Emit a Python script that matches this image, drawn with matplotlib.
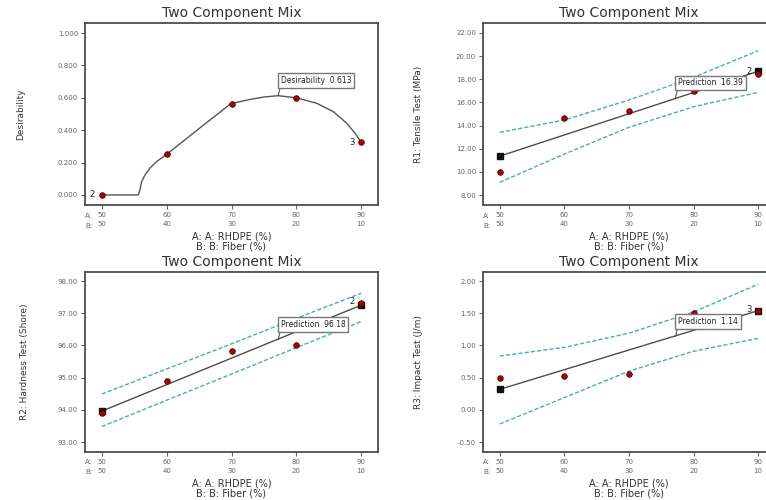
import numpy as np
import matplotlib.pyplot as plt
from matplotlib import font_manager

# design points, A: RHDPE (%) and B: Fiber (%)
rhdpe = [50, 60, 70, 80, 90]
fiber = [50, 40, 30, 20, 10]
ends = [50, 90]
opt_a = 77.2

# desirability
desir_pts = [0.0, 0.251, 0.564, 0.600, 0.325]
desir_curve_x = [50, 55.6, 55.87, 56.13, 56.64, 57.41, 58.44, 60, 65, 69.9,
                 72.86, 75.0, 77.2, 80.07, 83.15, 85.73, 87.79, 89.07, 90]
desir_curve_y = [0.0, 0.0, 0.031, 0.082, 0.123, 0.165, 0.206, 0.251, 0.41, 0.564,
                 0.59, 0.605, 0.613, 0.60, 0.566, 0.514, 0.442, 0.381, 0.325]
desir_opt = 0.613

# R1 tensile test (MPa)
tensile_pts = [10.0, 14.65, 15.23, 17.0, 18.45]
tensile_fit = [11.36, 18.69]
tensile_upper = [13.42, 14.48, 16.21, 18.17, 20.47]
tensile_lower = [9.1, 11.54, 13.85, 15.63, 16.87]
tensile_opt = 16.39

# R2 hardness test (Shore)
hard_pts = [93.91, 94.89, 95.82, 96.0, 97.31]
hard_fit = [93.96, 97.25]
hard_upper = [94.49, 95.27, 96.05, 96.84, 97.62]
hard_lower = [93.48, 94.30, 95.11, 95.93, 96.74]
hard_opt = 96.18

# R3 impact test (J/m)
impact_pts = [0.494, 0.52, 0.56, 1.51, 1.54]
impact_fit = [0.318, 1.54]
impact_upper = [0.835, 0.97, 1.19, 1.52, 1.95]
impact_lower = [-0.22, 0.19, 0.60, 0.91, 1.11]
impact_opt = 1.14

names = {f.name for f in font_manager.fontManager.ttflist}
narrow = 'Liberation Sans Narrow' if 'Liberation Sans Narrow' in names else 'DejaVu Sans'

RED = '#b00000'
CYAN = '#3cb4b4'
GREY = '#4d4d4d'


def setup_axes(ax, ylim, yticks, fmt, ylabel, ylab_x):
    ax.set_xlim(47.4, 92.6)
    ax.set_ylim(*ylim)
    ax.set_yticks(yticks)
    ax.set_yticklabels([fmt % v for v in yticks])
    ax.set_xticks(rhdpe)
    ax.set_xticklabels(['%d\n%d' % (a, b) for a, b in zip(rhdpe, fiber)])
    for t in ax.get_xticklabels():
        t.set_linespacing(1.55)
    ax.tick_params(axis='both', labelsize=5, colors='#666', length=3, width=0.8, pad=2)
    for s in ax.spines.values():
        s.set_color(GREY)
        s.set_linewidth(1.3)
    ax.text(0.0, -0.058, 'A:', transform=ax.transAxes, fontsize=5, color='#666',
            ha='left', va='center')
    ax.text(0.0, -0.113, 'B:', transform=ax.transAxes, fontsize=5, color='#666',
            ha='left', va='center')
    ax.set_title('Two Component Mix', fontsize=10, color='#333', pad=4)
    ax.set_xlabel('A: A: RHDPE (%)\nB: B: Fiber (%)', fontsize=7, color='#333',
                  linespacing=1.05)
    ax.xaxis.set_label_coords(0.5, -0.145)
    ax.set_ylabel(ylabel, fontsize=6.5, color='#333', family=narrow)
    ax.yaxis.set_label_coords(ylab_x, 0.5)


def flag(ax, x, y, label):
    # flag box with a leader line down to the curve
    ax.annotate(label, xy=(x, y), xytext=(1.9, 7.6), textcoords='offset points',
                ha='left', va='bottom', fontsize=5.5, color='#222', zorder=6,
                bbox=dict(boxstyle='square,pad=0.35', fc='white', ec='#777', lw=1),
                arrowprops=dict(arrowstyle='-', color='#555', lw=0.8,
                                relpos=(0, 0), shrinkA=0, shrinkB=0))


def count_label(ax, x, y, n, dy=0):
    ax.annotate(n, xy=(x, y), xytext=(-5, dy), textcoords='offset points',
                ha='right', va='center', fontsize=6, color='#222', zorder=6)


def red_points(ax, x, y):
    ax.plot(x, y, 'o', ms=4, mfc=RED, mec='#4a0000', mew=0.6, zorder=4)


def response_plot(ax, pts, fit, upper, lower):
    ax.plot(rhdpe, upper, '--', color=CYAN, lw=1, dashes=(3, 1.5), zorder=2)
    ax.plot(rhdpe, lower, '--', color=CYAN, lw=1, dashes=(3, 1.5), zorder=2)
    ax.plot(ends, fit, '-', color=GREY, lw=1, zorder=2)
    ax.plot(ends, fit, 's', ms=4.5, color='#111', zorder=3)
    red_points(ax, rhdpe, pts)


fig = plt.figure(figsize=(7.66, 5.0), dpi=100)
ax1 = fig.add_axes([85 / 766, 1 - 205 / 500, 293 / 766, 182 / 500])
ax2 = fig.add_axes([483 / 766, 1 - 205 / 500, 292 / 766, 182 / 500])
ax3 = fig.add_axes([85 / 766, 1 - 452 / 500, 293 / 766, 180 / 500])
ax4 = fig.add_axes([483 / 766, 1 - 452 / 500, 292 / 766, 180 / 500])

# desirability
ax1.plot(desir_curve_x, desir_curve_y, '-', color='#555', lw=1, zorder=2)
red_points(ax1, rhdpe, desir_pts)
setup_axes(ax1, (-0.062, 1.062), np.arange(0, 1.01, 0.2), '%.3f', 'Desirability', -0.205)
flag(ax1, opt_a, desir_opt, 'Desirability  %.3f' % desir_opt)
count_label(ax1, 50, desir_pts[0], '2')
count_label(ax1, 90, desir_pts[4], '3')

# tensile
response_plot(ax2, tensile_pts, tensile_fit, tensile_upper, tensile_lower)
setup_axes(ax2, (7.14, 22.86), np.arange(8, 22.01, 2), '%.2f', 'R1: Tensile Test (MPa)', -0.205)
flag(ax2, opt_a, tensile_opt, 'Prediction  %.2f' % tensile_opt)
count_label(ax2, 90, tensile_fit[1], '2')

# hardness
response_plot(ax3, hard_pts, hard_fit, hard_upper, hard_lower)
setup_axes(ax3, (92.69, 98.28), np.arange(93, 98.01, 1), '%.2f', 'R2: Hardness Test (Shore)', -0.19)
flag(ax3, opt_a, hard_opt, 'Prediction  %.2f' % hard_opt)
count_label(ax3, 90, hard_pts[4], '2', dy=1)

# impact
response_plot(ax4, impact_pts, impact_fit, impact_upper, impact_lower)
setup_axes(ax4, (-0.655, 2.14), np.arange(-0.5, 2.01, 0.5), '%.2f', 'R3: Impact Test (J/m)', -0.205)
flag(ax4, opt_a, impact_opt, 'Prediction  %.2f' % impact_opt)
count_label(ax4, 90, impact_fit[1], '3', dy=1)

fig.savefig('out.png', dpi=100)
